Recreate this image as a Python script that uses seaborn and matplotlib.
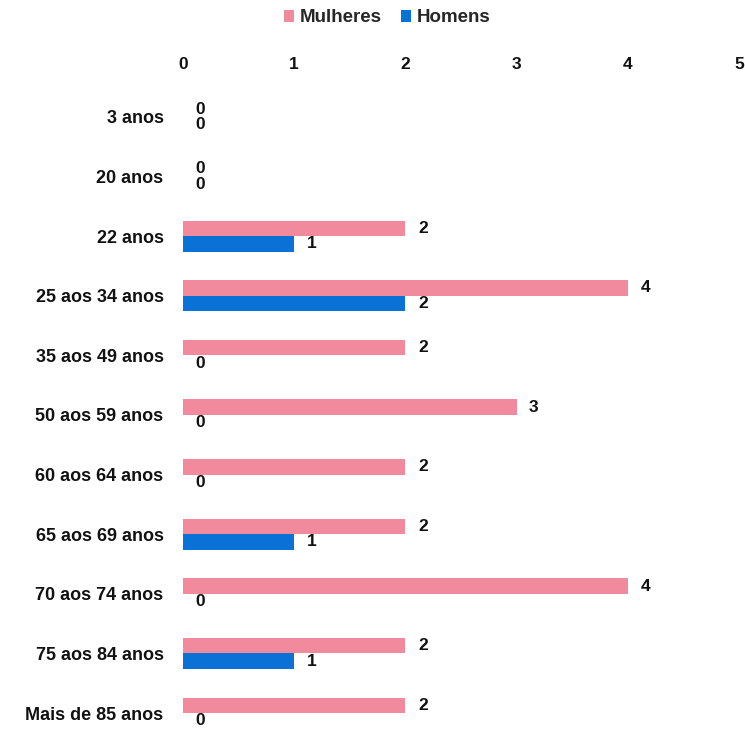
import matplotlib
matplotlib.use("Agg")
import matplotlib.pyplot as plt
import seaborn as sns
import pandas as pd


categories = [
    "3 anos", "20 anos", "22 anos", "25 aos 34 anos", "35 aos 49 anos",
    "50 aos 59 anos", "60 aos 64 anos", "65 aos 69 anos", "70 aos 74 anos",
    "75 aos 84 anos", "Mais de 85 anos",
]
mulheres = [0, 0, 2, 4, 2, 3, 2, 2, 4, 2, 2]
homens = [0, 0, 1, 2, 0, 0, 0, 1, 0, 1, 0]
series = ["Mulheres", "Homens"]
x_ticks = [0, 1, 2, 3, 4, 5]

colors = {"Mulheres": "#F08A9C", "Homens": "#0A72D6"}


df = pd.DataFrame({
    "faixa": categories * 2,
    "valor": mulheres + homens,
    "sexo": [series[0]] * len(categories) + [series[1]] * len(categories),
})


sns.set_style("white")
plt.rcParams["font.family"] = ["Liberation Sans", "DejaVu Sans"]
plt.rcParams["font.weight"] = "bold"


fig = plt.figure(figsize=(7.45, 7.31), dpi=100)
ax = fig.add_axes([0.2456, 0.0, 0.7464, 0.881])

sns.barplot(
    data=df,
    x="valor",
    y="faixa",
    hue="sexo",
    hue_order=series,
    palette=colors,
    saturation=1,
    orient="h",
    width=0.52,
    order=categories,
    linewidth=0,
    ax=ax,
)

for container in ax.containers:
    ax.bar_label(
        container,
        fmt="%d",
        padding=9,
        fontsize=12.5,
        fontweight="bold",
        color="#111111",
    )

ax.set_xlim(0, 5)
ax.set_ylim(10.3, -0.5)
ax.set_xticks(x_ticks)
ax.xaxis.tick_top()
ax.tick_params(axis="x", length=0, pad=11, labelsize=12.5)
ax.tick_params(axis="y", length=0, pad=14, labelsize=13)
for lab in ax.get_xticklabels() + ax.get_yticklabels():
    lab.set_fontweight("bold")
    lab.set_color("#111111")

ax.set_xlabel("")
ax.set_ylabel("")
sns.despine(ax=ax, left=True, bottom=True, top=True, right=True)

handles, labels = ax.get_legend_handles_labels()
ax.get_legend().remove()
fig.legend(
    handles,
    labels,
    loc="center",
    bbox_to_anchor=(387 / 745, 1 - 18 / 731),
    ncol=2,
    frameon=False,
    handlelength=0.55,
    handleheight=0.55,
    handletextpad=0.3,
    columnspacing=1.0,
    prop={"weight": "bold", "size": 13.5},
)

fig.savefig("out.png", dpi=100)
